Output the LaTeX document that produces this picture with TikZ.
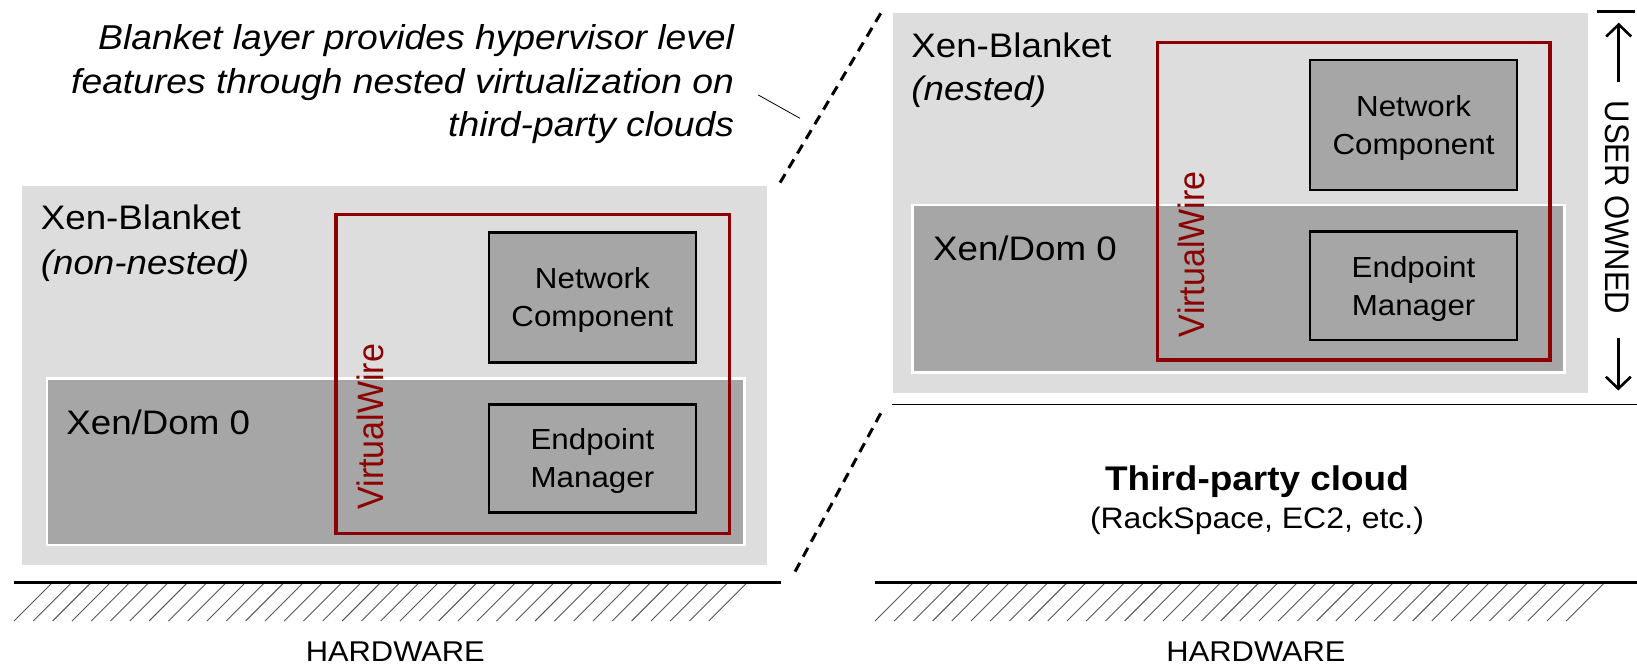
\documentclass[tikz,border=0pt]{standalone}
\usepackage{fontspec}
\setmainfont{Liberation Sans}[FakeStretch=1.08]
\newfontfamily\rotsans{Liberation Sans}
\usetikzlibrary{arrows.meta}

\definecolor{blanketgray}{RGB}{221,221,221}
\definecolor{domgray}{RGB}{166,166,166}
\definecolor{wirered}{RGB}{140,0,0}
\definecolor{hatchgray}{RGB}{85,85,85}

\newcommand\xbLabelFont{\fontsize{34}{44}\selectfont}
\newcommand\xbNoteFont{\fontsize{34.5}{43.5}\selectfont}
\newcommand\xbBoxFont{\fontsize{29}{38}\selectfont}
\newcommand\xbHwFont{\fontsize{28.6}{32}\selectfont}

\tikzset{
  every node/.style={inner sep=0pt, outer sep=0pt},
  blanketbox/.style={fill=blanketgray, draw=none},
  dombox/.style={fill=domgray, draw=white, line width=2.5pt},
  wirebox/.style={draw=wirered, line width=3.5pt},
  compbox/.style={fill=domgray, draw=black, line width=2.5pt,
                  minimum width=207pt},
  boxtext/.style={align=center, font=\xbBoxFont, yshift=-3pt},
  layerlabel/.style={anchor=base west, font=\xbLabelFont},
  wirelabel/.style={rotate=90, text=wirered},
  groundline/.style={line width=3pt},
  hatchline/.style={draw=hatchgray, line width=0.9pt},
  zoomline/.style={line width=3pt, dash pattern=on 10pt off 7pt},
  ownarrow/.style={line width=2.6pt, -{Straight Barb[length=12pt, width=25pt]}},
  hwlabel/.style={anchor=base, font=\xbHwFont},
}

\begin{document}
\begin{tikzpicture}[x=1pt, y=-1pt]
\useasboundingbox (0,0) rectangle (1637,665);

% ---------------- left stack: Xen-Blanket on bare hardware ----------------
\node[blanketbox, minimum width=745.5pt, minimum height=379pt] (blanketL) at (394.25,375.5) {};
\node[dombox, minimum width=697.6pt, minimum height=166.7pt] (domL) at (395.8,461.65) {};
\node[wirebox, minimum width=393.3pt, minimum height=319pt] (wireL) at (532.65,373.8) {};
\node[compbox, minimum height=130pt] (ncL) at (592.4,297.3) {};
\node[compbox, minimum height=108pt] (emL) at (592.4,458.3) {};
\node[boxtext] (ncLtext) at (ncL.center) {Network\\Component};
\node[boxtext] (emLtext) at (emL.center) {Endpoint\\Manager};
\node[layerlabel] (xbL) at (40.9,229.3) {Xen-Blanket};
\node[layerlabel] (xbLsub) at (40.9,274) {\itshape (non-nested)};
\node[layerlabel] (domLtext) at (66.4,434.5) {Xen/Dom 0};
\node[wirelabel] (vwL) at (370.2,426.7) {\rotsans\fontsize{34}{34}\selectfont\scalebox{1}[1.08]{VirtualWire}};

% ---------------- right stack: Xen-Blanket nested on a cloud ----------------
\node[blanketbox, minimum width=695pt, minimum height=379.4pt] (blanketR) at (1240.2,203) {};
\node[dombox, minimum width=652.3pt, minimum height=167.3pt] (domR) at (1238.55,288.65) {};
\node[wirebox, minimum width=392.6pt, minimum height=317.7pt] (wireR) at (1353.9,201.15) {};
\node[compbox, minimum height=130pt] (ncR) at (1413.55,125) {};
\node[compbox, minimum height=108.3pt] (emR) at (1413.55,285.85) {};
\node[boxtext] (ncRtext) at (ncR.center) {Network\\Component};
\node[boxtext] (emRtext) at (emR.center) {Endpoint\\Manager};
\node[layerlabel] (xbR) at (911.4,57.3) {Xen-Blanket};
\node[layerlabel] (xbRsub) at (911.4,100) {\itshape (nested)};
\node[layerlabel] (domRtext) at (933.1,260) {Xen/Dom 0};
\node[wirelabel] (vwR) at (1191.5,254.2) {\rotsans\fontsize{34}{34}\selectfont\scalebox{1}[1.08]{VirtualWire}};

% cloud boundary under the nested stack
\coordinate (cloudA) at (892,404.5);
\coordinate (cloudB) at (1637,404.5);
\draw[line width=1.5pt] (cloudA) -- (cloudB);

\node[anchor=base, font=\fontsize{34.2}{38}\selectfont\bfseries] (cloud) at (1257,490.5) {Third-party cloud};
\node[anchor=base, font=\fontsize{29.6}{34}\selectfont] (cloudex) at (1257,528.5) {(RackSpace, EC2, etc.)};

% ---------------- user-owned range ----------------
\coordinate (ownbarA) at (1596.7,11.7);
\coordinate (ownbarB) at (1635,11.7);
\draw[line width=3pt] (ownbarA) -- (ownbarB);
\coordinate (upfrom) at (1618.7,81.7);
\coordinate (upto) at (1618.7,22.7);
\coordinate (downfrom) at (1618.3,338.3);
\coordinate (downto) at (1618.3,390.5);
\draw[ownarrow] (upfrom) -- (upto);
\draw[ownarrow] (downfrom) -- (downto);
\node[rotate=-90] (owned) at (1617.5,207.5) {\rotsans\fontsize{31}{31}\selectfont\scalebox{1}[1.1]{USER OWNED}};

% ---------------- zoom lines and note ----------------
\coordinate (zoomUa) at (880.7,13.3);
\coordinate (zoomUb) at (780,182.7);
\coordinate (zoomDa) at (880.7,413.3);
\coordinate (zoomDb) at (795,571.7);
\draw[zoomline] (zoomUa) -- (zoomUb);
\draw[zoomline] (zoomDa) -- (zoomDb);

% the note's last line sits on the given baseline
\node[anchor=base east, align=right, font=\xbNoteFont\itshape] (note) at (734,136.5)
  {Blanket layer provides hypervisor level\\features through nested virtualization on\\third-party clouds};
\coordinate (pointA) at (758.3,95);
\coordinate (pointB) at (800,118.3);
\draw[line width=0.8pt] (pointA) -- (pointB);

% ---------------- hardware ----------------
\coordinate (hwLa) at (14,582.5);
\coordinate (hwLb) at (781,582.5);
\coordinate (hwRa) at (875,582.5);
\coordinate (hwRb) at (1637,582.5);
\foreach \i in {0,...,36} {
  \draw[hatchline] (14+\i*19.3,621) -- ++(38.5,-38.5);
  \draw[hatchline] (875+\i*19.2,621) -- ++(38,-38);
}
\draw[groundline] (hwLa) -- (hwLb);
\draw[groundline] (hwRa) -- (hwRb);
\node[hwlabel] (hwL) at (395.3,661.5) {HARDWARE};
\node[hwlabel] (hwR) at (1256,661.5) {HARDWARE};
\end{tikzpicture}
\end{document}
